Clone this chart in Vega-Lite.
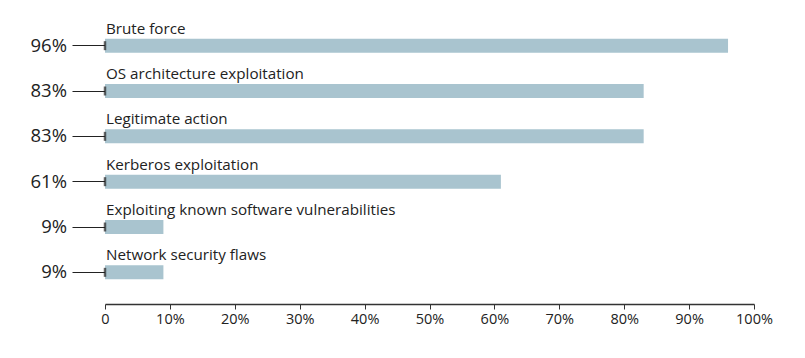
{
  "$schema": "https://vega.github.io/schema/vega-lite/v6.json",
  "autosize": {"type": "none"},
  "padding": {"left": 105, "top": 23, "right": 51, "bottom": 63},
  "width": 649,
  "height": 272,
  "background": "white",
  "config": {"view": {"stroke": null}, "font": "Open Sans"},
  "data": {"values": [
    {"task": "Brute force", "value": 96, "label": "96%"},
    {"task": "OS architecture exploitation", "value": 83, "label": "83%"},
    {"task": "Legitimate action", "value": 83, "label": "83%"},
    {"task": "Kerberos exploitation", "value": 61, "label": "61%"},
    {"task": "Exploiting known software vulnerabilities", "value": 9, "label": "9%"},
    {"task": "Network security flaws", "value": 9, "label": "9%"}
  ]},
  "encoding": {
    "y": {"field": "task", "type": "nominal", "sort": null,
      "scale": {"paddingInner": 0, "paddingOuter": 0},
      "axis": {"title": null, "labels": false, "domain": false, "ticks": true, "tickSize": 33, "tickColor": "#222", "tickWidth": 1}}
  },
  "layer": [
    {
      "mark": {"type": "bar", "color": "#a9c4cf", "size": 14},
      "encoding": {
        "x": {"field": "value", "type": "quantitative",
          "scale": {"domain": [0, 100], "nice": false},
          "axis": {"title": null, "values": [0,5,10,15,20,25,30,35,40,45,50,55,60,65,70,75,80,85,90,95,100],
            "labelExpr": "datum.value % 10 == 0 ? (datum.value == 0 ? '0' : datum.value + '%') : ''",
            "labelFlush": false, "labelOverlap": false,
            "offset": 9, "domainColor": "#333", "domainWidth": 1.5,
            "tickColor": "#333", "tickSize": {"condition": {"test": "datum.value % 10 == 0", "value": 5}, "value": 3},
            "grid": false, "labelFontSize": 14.5, "labelColor": "#222", "labelPadding": 3, "labelFont": "Open Sans"}}
      }
    },
    {
      "mark": {"type": "tick", "color": "#222", "size": 9, "thickness": 2.5},
      "encoding": {"x": {"datum": 0, "type": "quantitative"}}
    },
    {
      "mark": {"type": "text", "align": "right", "baseline": "middle", "dx": -38, "fontSize": 18.5, "color": "#222"},
      "encoding": {"x": {"datum": 0, "type": "quantitative"}, "text": {"field": "label"}}
    },
    {
      "mark": {"type": "text", "align": "left", "baseline": "alphabetic", "dx": 1, "dy": -12, "fontSize": 15.2, "color": "#222"},
      "encoding": {"x": {"datum": 0, "type": "quantitative"}, "text": {"field": "task"}}
    }
  ]
}
